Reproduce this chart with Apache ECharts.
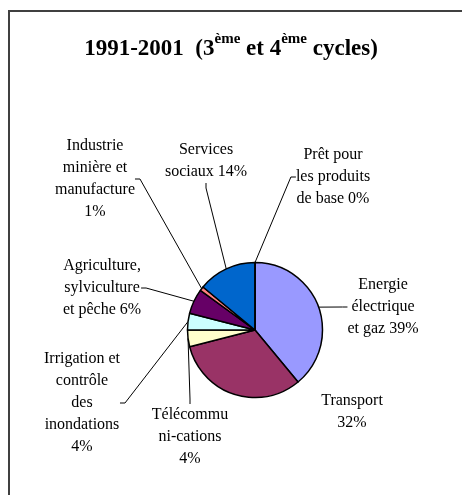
<!DOCTYPE html>
<html>
<head>
<meta charset="utf-8">
<script src="https://cdn.jsdelivr.net/npm/echarts@6/dist/echarts.min.js"></script>
<style>html,body{margin:0;padding:0;background:#fff;}#c{width:462px;height:495px;}</style>
</head>
<body>
<div id="c"></div>
<script>
const categories = ['Energie électrique et gaz', 'Transport', 'Télécommunications', 'Irrigation et contrôle des inondations', 'Agriculture, sylviculture et pêche', 'Industrie minière et manufacture', 'Services sociaux', 'Prêt pour les produits de base'];
const values = [39, 32, 4, 4, 6, 1, 14, 0];
const labelTemplates = ['Energie\nélectrique\net gaz {p}%', 'Transport\n{p}%', 'Télécommu\nni-cations\n{p}%', 'Irrigation et\ncontrôle\ndes\ninondations\n{p}%', 'Agriculture,\nsylviculture\net pêche {p}%', 'Industrie\nminière et\nmanufacture\n{p}%', 'Services\nsociaux {p}%', 'Prêt pour\nles produits\nde base {p}%'];
const colors = ['#9999FF', '#993366', '#FFFFCC', '#CCFFFF', '#660066', '#FF8080', '#0066CC', '#FFFFFF'];
const labelPos = [[383, 307], [352, 412], [190, 437], [82, 403], [102, 288], [95, 179], [206, 161], [333, 177]];
const labelAnchor = ['left', 'none', 'top', 'right', 'right', 'right', 'bottom', 'left'];

const chart = echarts.init(document.getElementById('c'), null, {renderer: 'canvas'});
const serif = '"Liberation Serif", "Times New Roman", serif';
const STUB = 5;
chart.setOption({
  animation: false,
  graphic: [{
    type: 'rect', silent: true,
    shape: {x: 9, y: 11, width: 600, height: 600},
    style: {fill: 'none', stroke: '#404040', lineWidth: 2}
  }],
  title: {
    left: 'center', top: 22,
    text: '{a|1991-2001  (3}{s|ème}{a| et 4}{s|ème}{a| cycles)}',
    textStyle: {
      rich: {
        a: {fontFamily: serif, fontWeight: 'bold', fontSize: 23, color: '#000', verticalAlign: 'bottom', lineHeight: 34},
        s: {fontFamily: serif, fontWeight: 'bold', fontSize: 15, color: '#000', verticalAlign: 'bottom', padding: [0, 0, 14, 0], lineHeight: 34}
      }
    }
  },
  series: [{
    type: 'pie',
    center: [255, 330],
    radius: 67.5,
    startAngle: 90,
    clockwise: true,
    avoidLabelOverlap: false,
    data: categories.map((n, i) => ({
      name: n, value: values[i],
      itemStyle: {color: colors[i]},
      labelLine: {show: labelAnchor[i] !== 'none'}
    })),
    itemStyle: {borderColor: '#000', borderWidth: 1.5},
    label: {
      show: true,
      fontFamily: serif, fontSize: 16, color: '#000', lineHeight: 22, align: 'center',
      formatter: p => labelTemplates[p.dataIndex].replace('{p}', Math.round(p.percent))
    },
    labelLine: {show: true, lineStyle: {color: '#000', width: 1}, length: 10, length2: 5},
    labelLayout: p => {
      const i = p.dataIndex;
      const cx = labelPos[i][0], cy = labelPos[i][1];
      const w = p.labelRect.width, h = p.labelRect.height;
      const out = {x: cx, y: cy, align: 'center', verticalAlign: 'middle'};
      const a = labelAnchor[i];
      if (a !== 'none' && p.labelLinePoints) {
        const start = p.labelLinePoints[0];
        let end, stub;
        if (a === 'left') { end = [cx - w / 2, cy]; stub = [end[0] - STUB, cy]; }
        else if (a === 'right') { end = [cx + w / 2, cy]; stub = [end[0] + STUB, cy]; }
        else if (a === 'top') { end = [cx, cy - h / 2]; stub = [cx, end[1] - STUB]; }
        else { end = [cx, cy + h / 2]; stub = [cx, end[1] + STUB]; }
        out.labelLinePoints = [start, stub, end];
      }
      return out;
    },
    emphasis: {disabled: true}
  }]
});
</script>
</body>
</html>
